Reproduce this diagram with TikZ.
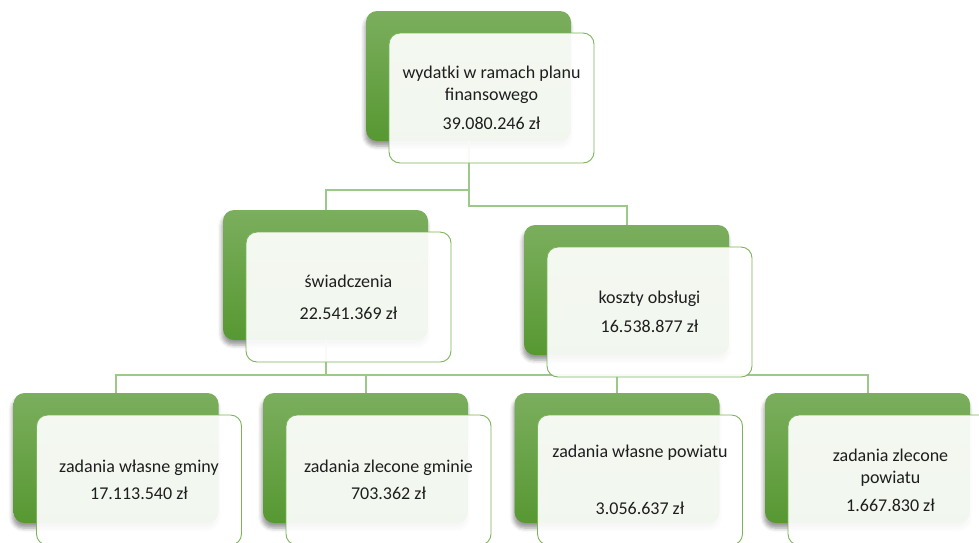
\documentclass[tikz,border=0pt]{standalone}
\usepackage{fontspec}
\setmainfont{Carlito}
\usepackage{tikz}
\usetikzlibrary{shadows.blur}
\definecolor{greentop}{HTML}{7BAE5D}
\definecolor{greenbot}{HTML}{579832}
\definecolor{frontline}{HTML}{7DB35B}
\definecolor{linkgreen}{HTML}{9CC98A}
\definecolor{textgray}{HTML}{1E1E1E}

\begin{document}
\begin{tikzpicture}[x=1pt,y=-1pt]
\clip (0,0) rectangle (979,542);

\tikzstyle{back}=[rectangle, rounded corners=11pt, top color=greentop,
    bottom color=greenbot, draw=none, minimum width = 205pt,
    minimum height = 130pt, blur shadow={shadow xshift=-1pt,
    shadow yshift=-5pt, shadow blur radius=4pt, shadow opacity=40}]
\tikzstyle{front}=[rectangle, rounded corners=11pt, draw=frontline,
    line width=0.9pt, fill=white, fill opacity=0.92, text opacity=1,
    text=textgray, minimum width = 205pt, minimum height = 130pt,
    align=center, font=\fontsize{18}{22}\selectfont]
\tikzstyle{link}=[draw=linkgreen, line width=2pt]

% green blocks
\node[back] (g0) at (468.5,76) {};
\node[back] (g1) at (325.5,275) {};
\node[back] (g2) at (626.5,290) {};
\node[back] (g3) at (116,458) {};
\node[back] (g4) at (365.5,458) {};
\node[back] (g5) at (617,458) {};
\node[back] (g6) at (867.5,458) {};

% connectors
\draw[link] (g0.south) -- ++(0,49) -| (g1.north);
\draw[link] (g0.south) -- ++(0,65) -| (g2.north);
\draw[link] (g1.south) -- ++(0,35) -| (g3.north);
\draw[link] (g1.south) -- ++(0,35) -| (g4.north);
\draw[link] (g1.south) -- ++(0,35) -| (g5.north);
\draw[link] (g1.south) -- ++(0,35) -| (g6.north);

% text blocks
\node[front] (w0) at (491.5,98) {wydatki w ramach planu\\finansowego\\[7pt]39.080.246 zł};
\node[front] (w1) at (348.5,297) {świadczenia\\[10pt]22.541.369 zł};
\node[front] (w2) at (649.5,312) {koszty obsługi\\[7pt]16.538.877 zł};
\node[front] (w3) at (139,480) {zadania własne gminy\\[5pt]17.113.540 zł};
\node[front] (w4) at (388.5,480) {zadania zlecone gminie\\[5pt]703.362 zł};
\node[front] (w5) at (640,480) {zadania własne powiatu\\[35pt]3.056.637 zł};
\node[front] (w6) at (890.5,480) {zadania zlecone\\powiatu\\[6pt]1.667.830 zł};
\end{tikzpicture}
\end{document}
